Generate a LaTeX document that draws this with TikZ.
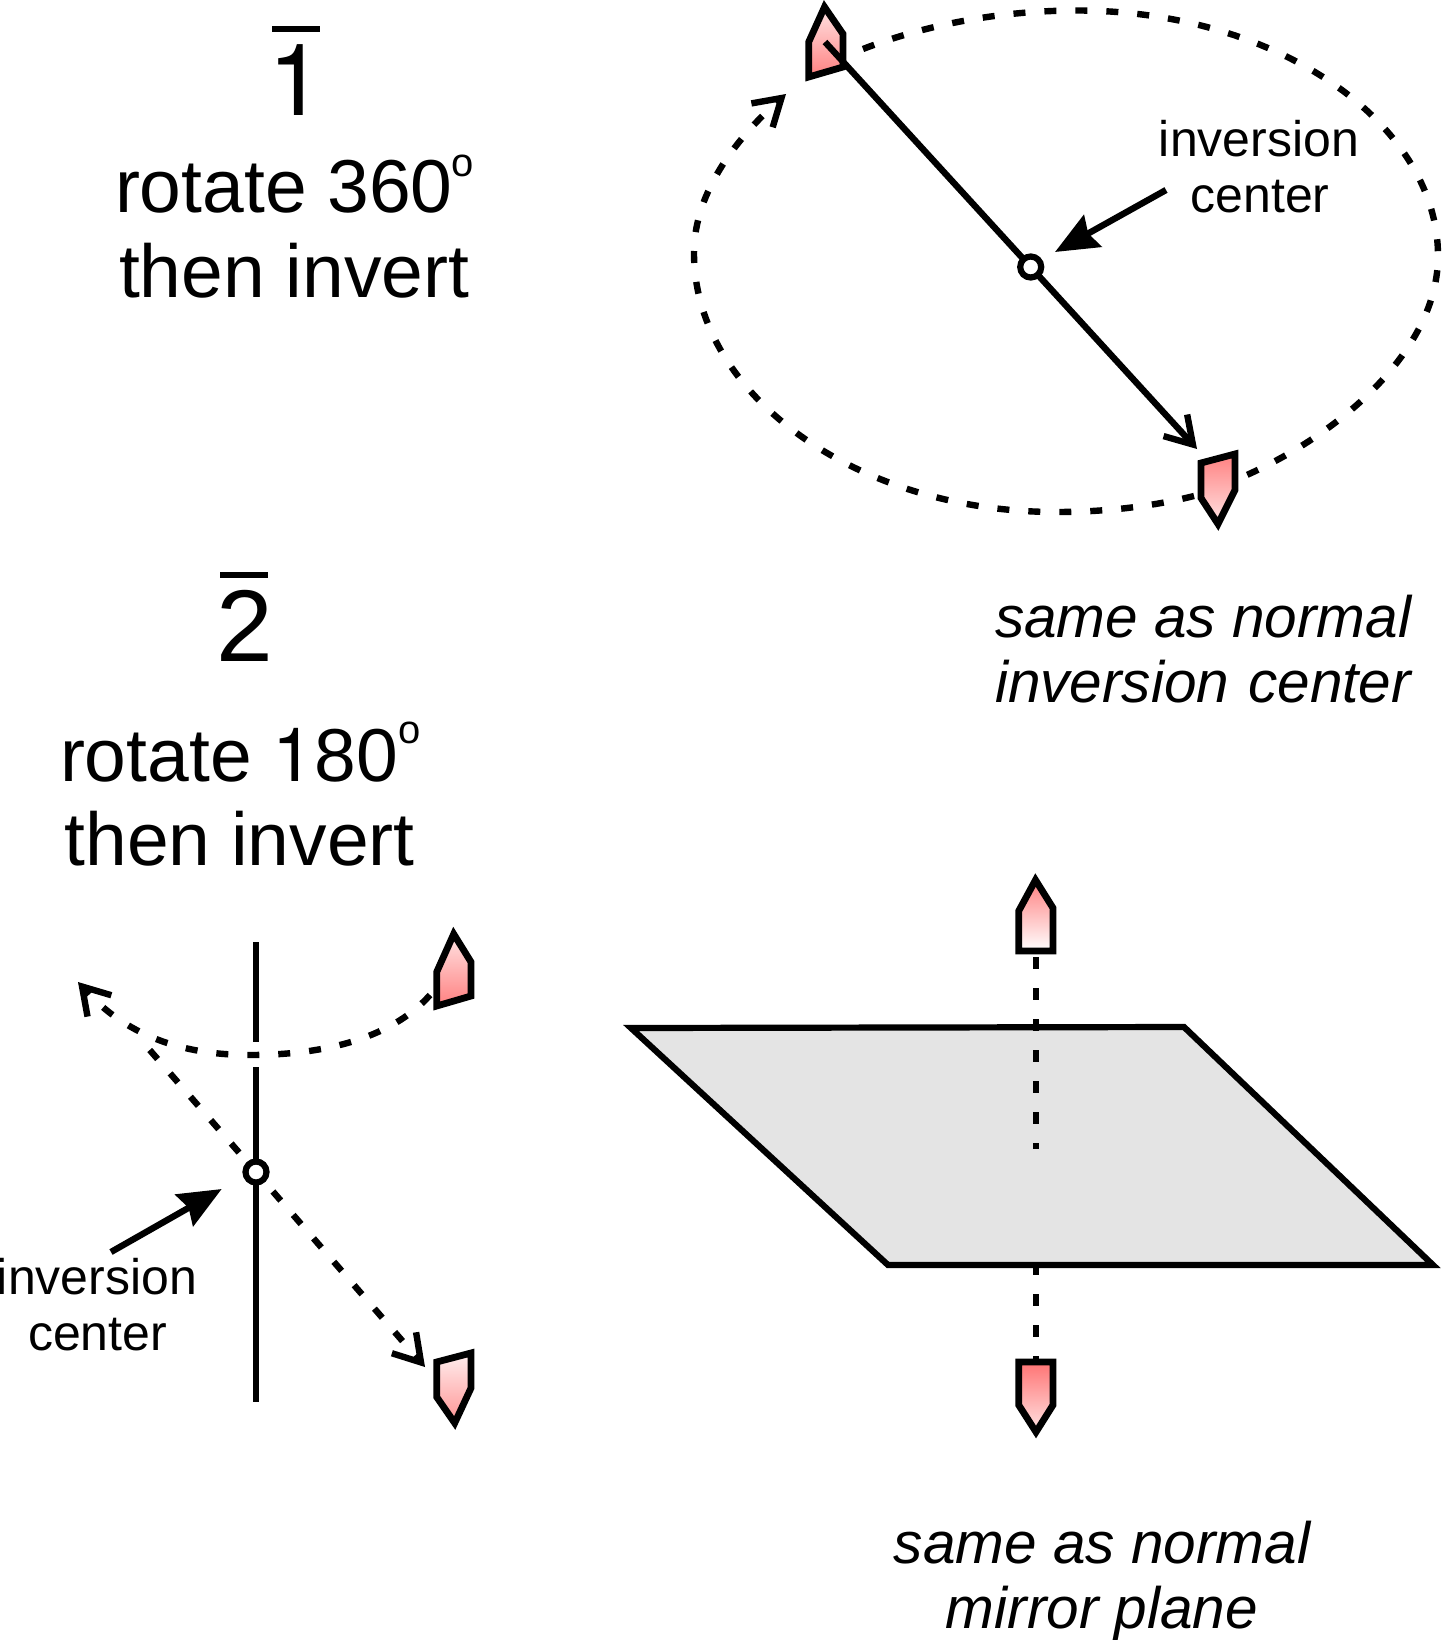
\documentclass[tikz,border=0pt]{standalone}
\usepackage{fontspec}
\setmainfont{Liberation Sans}
\newfontfamily\hvfont{TeX Gyre Heros}
\usetikzlibrary{arrows.meta}
\definecolor{planegray}{HTML}{E4E4E4}
\definecolor{pk}{HTML}{FF8080}
\definecolor{pl}{HTML}{FFE4E4}
\tikzset{
  every node/.style={inner sep=0pt,outer sep=0pt},
  bigtxt/.style={anchor=base west,font=\fontsize{75}{80}\selectfont},
  numtxt/.style={anchor=base west,font=\fontsize{102}{110}\selectfont},
  onetxt/.style={anchor=base west,font=\fontsize{100}{110}\selectfont},
  degtxt/.style={anchor=base west,font=\fontsize{40}{44}\selectfont},
  smalltxt/.style={anchor=base,font=\fontsize{50}{54}\selectfont},
  itxt/.style={anchor=base west,font=\fontsize{58.5}{62}\selectfont\itshape},
  itxtc/.style={anchor=base,font=\fontsize{58.5}{62}\selectfont\itshape},
  solidline/.style={line width=6.4pt,line cap=butt,line join=miter},
  dashline/.style={line width=6.4pt,dash pattern=on 12pt off 19pt},
  barbhead/.style={-{Straight Barb[length=26pt,width=32pt,line width=6.4pt]}},
  fathead/.style={-{Stealth[length=43pt,width=36pt,inset=5pt]}},
  marker/.style={line width=6.8pt,line join=miter,draw=black},
  ctr/.style={circle,draw=black,fill=white,line width=6.2pt,minimum size=21pt},
  planeface/.style={fill=planegray,draw=black,line width=6.2pt,line join=miter},
  barline/.style={line width=6.4pt}
}
\begin{document}
\begin{tikzpicture}[x=1pt,y=-1pt]
\useasboundingbox (0,0) rectangle (1441,1640);
% headings
\node[onetxt] (n1) at (268,116) {\hvfont 1};
\draw[barline] (272,29) -- (320,29);
\node[bigtxt] (r1) at (115,212) {rotate 360};
\node[degtxt] (d1) at (451,177) {o};
\node[bigtxt] (t1) at (119,297) {then invert};
\node[numtxt] (n2) at (216,661) {2};
\draw[barline] (220,575) -- (268,575);
\node[bigtxt] (r2) at (60,781) {rotate {\hvfont 1}80};
\node[degtxt] (d2) at (398,743) {o};
\node[bigtxt] (t2) at (64.5,865) {then invert};
% top figure
\coordinate (ea) at (863,49);
\coordinate (eb) at (1077,10.5);
\coordinate (ec) at (1438,256);
\coordinate (ed) at (1240,478);
\coordinate (ee) at (1194,496);
\coordinate (ef) at (1056,512);
\coordinate (eg) at (694,253);
\coordinate (eh) at (786,94);
\draw[dashline] (ea) .. controls (925,25) and (1000,10.5) .. (eb)
  .. controls (1280,10.5) and (1438,125) .. (ec)
  .. controls (1438,350) and (1340,435) .. (ed);
\draw[dashline,barbhead] (ee) .. controls (1150,507) and (1103,512) .. (ef)
  .. controls (857,512) and (694,395) .. (eg)
  .. controls (694,190) and (740,135) .. (eh);
\shadedraw[marker,top color=pl,bottom color=pk]
  (824.5,7) -- (843,34) -- (843,67) -- (808.7,77) -- (808.7,42) -- cycle;
\shadedraw[marker,top color=pk,bottom color=pl]
  (1201,463) -- (1235,454) -- (1235,490) -- (1218,524) -- (1201,498) -- cycle;
\coordinate (la) at (825,42);
\coordinate (lb) at (1197,449);
\draw[solidline,barbhead] (la) -- (lb);
\node[ctr] (c1) at (1030.7,267) {};
\node[smalltxt] (i1) at (1259,157) {inversion};
\node[smalltxt] (i2) at (1260,212) {center};
\coordinate (pa) at (1166,190);
\coordinate (pb) at (1055,252);
\draw[solidline,fathead] (pa) -- (pb);
\node[itxt] (s1) at (995,637) {same as normal};
\node[itxt] (s2) at (995,702) {inversion\hspace{3pt} center};
% left figure
\coordinate (va) at (256,942);
\coordinate (vb) at (256,1042);
\coordinate (vc) at (256,1067);
\coordinate (vd) at (256,1402);
\coordinate (ca) at (430,995);
\coordinate (cb) at (250,1055);
\coordinate (cc) at (78,982);
\coordinate (da) at (149.3,1049.5);
\coordinate (db) at (425,1367);
\coordinate (cl) at (256,1172);
\draw[solidline] (va) -- (vb);
\draw[solidline] (vc) -- (vd);
\draw[dashline,barbhead] (ca) .. controls (390,1040) and (320,1055) .. (cb)
  .. controls (190,1055) and (130,1040) .. (cc);
\draw[dashline,dash phase=5.2pt] (cl) -- (da);
\draw[dashline,dash phase=5.2pt,barbhead] (cl) -- (db);
\node[ctr] (c2) at (cl) {};
\shadedraw[marker,top color=pl,bottom color=pk]
  (453.7,934) -- (471,962) -- (471,996) -- (436.7,1006) -- (436.7,972) -- cycle;
\shadedraw[marker,top color=pl!60!white,bottom color=pk!85!white]
  (436.7,1362) -- (471,1353) -- (471,1388) -- (454.7,1423) -- (436.7,1397) -- cycle;
\coordinate (qa) at (111,1252);
\coordinate (qb) at (221.7,1189);
\draw[solidline,fathead] (qa) -- (qb);
\node[smalltxt] (i3) at (97,1294) {inversion};
\node[smalltxt] (i4) at (97.5,1350) {center};
% mirror figure
\draw[planeface] (631,1028) -- (1184,1027) -- (1433,1265) -- (888,1265) -- cycle;
\coordinate (ma) at (1036,957);
\coordinate (mb) at (1036,1149);
\coordinate (mc) at (1036,1263);
\coordinate (md) at (1036,1362);
\draw[dashline] (ma) -- (mb);
\draw[dashline] (mc) -- (md);
\shadedraw[marker,top color=pk,bottom color=white]
  (1035.5,880) -- (1053,908) -- (1053,951) -- (1018.7,951) -- (1018.7,911) -- cycle;
\shadedraw[marker,top color=pk!90!red,bottom color=pl]
  (1018.7,1362) -- (1053,1362) -- (1053,1405) -- (1036,1432) -- (1018.7,1405) -- cycle;
\draw[dashline] (1036,1356) -- (md);
\node[itxtc] (s3) at (1102,1563) {same as normal};
\node[itxtc] (s4) at (1102,1628) {mirror plane};
\end{tikzpicture}
\end{document}
